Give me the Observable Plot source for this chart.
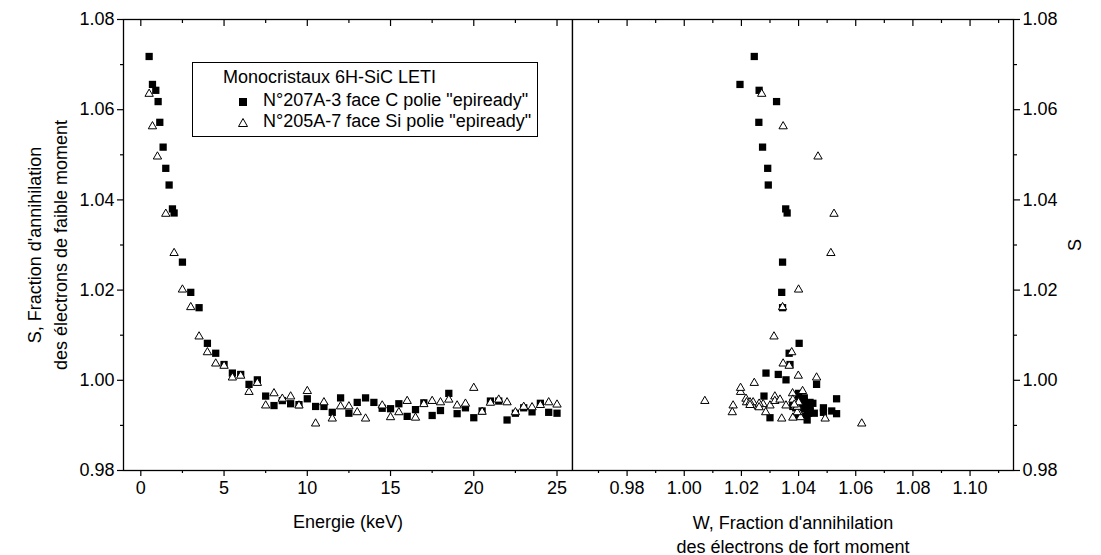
<!DOCTYPE html>
<html><head><meta charset="utf-8">
<script src="https://cdn.jsdelivr.net/npm/d3@7"></script>
<script src="https://cdn.jsdelivr.net/npm/@observablehq/plot@0.6"></script>
<style>
body{margin:0;background:#fff;}
#wrap{position:relative;width:1101px;height:555px;font-family:"Liberation Sans",Arial,sans-serif;color:#000;}
#left,#right{position:absolute;top:0;}
#left{left:0}
#right{left:572px}
#legend{position:absolute;left:192px;top:62px;width:344px;height:73px;border:1.4px solid #000;background:#fff;font-size:18px;z-index:5;}
#legend .t{position:absolute;white-space:nowrap;line-height:20px;}
#legend svg{position:absolute;}
</style>
</head><body>
<div id="wrap"><div id="left"></div><div id="right"></div>
<div id="legend">
  <div class="t" style="left:30px;top:4px">Monocristaux 6H-SiC LETI</div>
  <svg style="left:42px;top:31px" width="16" height="16"><rect x="4" y="4" width="8" height="8" fill="#000"/></svg>
  <div class="t" style="left:70px;top:27px">N°207A-3 face C polie "epiready"</div>
  <svg style="left:42px;top:52px" width="16" height="16"><path d="M8,3.5 L12.5,11.5 L3.5,11.5 Z" fill="#fff" stroke="#000" stroke-width="1"/></svg>
  <div class="t" style="left:70px;top:48px">N°205A-7 face Si polie "epiready"</div>
</div>
</div>
<script>
// Series N°207A-3 (squares): energy (keV), S, W
const e207 = [0.5,0.7,0.9,1.04,1.14,1.34,1.5,1.7,1.9,2.0,2.5,3.0,3.5,4.0,4.5,5.0,5.5,6.0,6.5,7.0,
  7.5,8.0,8.5,9.0,9.5,10.0,10.5,11.0,11.5,12.0,12.5,13.0,13.5,14.0,14.5,15.0,15.5,16.0,16.5,17.0,
  17.5,18.0,18.5,19.0,19.5,20.0,20.5,21.0,21.5,22.0,22.5,23.0,23.5,24.0,24.5,25.0];
const s207 = [1.0718,1.0656,1.0643,1.0618,1.0572,1.0517,1.0470,1.0433,1.0380,1.0371,
  1.0262,1.0195,1.0161,1.0082,1.0060,1.0035,1.0016,1.0013,0.9991,1.0001,
  0.9965,0.9944,0.9955,0.9948,0.9946,0.9959,0.9942,0.9942,0.9929,0.9961,
  0.9927,0.9951,0.9961,0.9951,0.9938,0.9937,0.9948,0.9920,0.9935,0.9950,
  0.9922,0.9933,0.9971,0.9926,0.9939,0.9917,0.9932,0.9954,0.9954,0.9912,
  0.9927,0.9939,0.9930,0.9949,0.9929,0.9927];
const w207 = [1.0245,1.0195,1.0262,1.0323,1.0261,1.0274,1.0292,1.0294,1.0355,1.0360,
  1.0344,1.0341,1.0344,1.0402,1.0367,1.0370,1.0286,1.0329,1.0463,1.0356,
  1.0279,1.0400,1.0410,1.0430,1.0390,1.0533,1.0420,1.0380,1.0487,1.0400,
  1.0430,1.0440,1.0420,1.0380,1.0400,1.0410,1.0430,1.0422,1.0440,1.0390,
  1.0400,1.0440,1.0400,1.0533,1.0487,1.0300,1.0516,1.0420,1.0400,1.0430,
  1.0435,1.0390,1.0440,1.0450,1.0400,1.0455];
// Series N°205A-7 (triangles): energy (keV), S, W
const e205 = [0.5,0.7,1.0,1.5,2.0,2.5,3.0,3.5,4.0,4.5,5.0,5.5,6.0,6.5,7.0,
  7.5,8.0,8.5,9.0,9.5,10.0,10.5,11.0,11.5,12.0,12.5,13.0,13.5,
  14.5,15.0,15.5,16.0,16.5,17.0,17.5,18.0,18.5,19.0,19.5,20.0,20.5,21.0,21.5,22.0,22.5,23.0,23.5,24.0,24.5,25.0];
const s205 = [1.0635,1.0563,1.0496,1.0369,1.0282,1.0201,1.0162,1.0097,1.0062,1.0037,1.0032,1.0006,1.0010,0.9974,0.9994,
  0.9944,0.9971,0.9959,0.9964,0.9944,0.9976,0.9904,0.9951,0.9915,0.9942,0.9942,0.9929,0.9915,
  0.9944,0.9918,0.9929,0.9954,0.9917,0.9947,0.9954,0.9951,0.9957,0.9944,0.9948,0.9983,0.9930,0.9950,0.9957,0.9951,0.9929,0.9941,0.9940,0.9945,0.9951,0.9946];
const w205 = [1.0271,1.0346,1.0468,1.0524,1.0513,1.0400,1.0344,1.0314,1.0376,1.0346,1.0367,1.0463,1.0399,1.0197,1.0245,
  1.0171,1.0379,1.0216,1.0317,1.0356,1.0414,1.0621,1.0218,1.0493,1.0387,1.0259,1.0285,1.0341,
  1.0300,1.0407,1.0168,1.0072,1.0380,1.0276,1.0317,1.0241,1.0335,1.0395,1.0262,1.0197,1.0400,1.0390,1.0380,1.0230,1.0395,1.0395,1.0262,1.0230,1.0400,1.0385];

const sTicks = [0.98,1.00,1.02,1.04,1.06,1.08];
const sMinor = [0.99,1.01,1.03,1.05,1.07];
const eTicks = [0,5,10,15,20,25];
const eMinor = [2.5,7.5,12.5,17.5,22.5];
const wTicks = [0.98,1.00,1.02,1.04,1.06,1.08,1.10];
const wMinor = [0.97,0.99,1.01,1.03,1.05,1.07,1.09,1.11];

const sq = e207.map((e,i)=>({E:e,S:s207[i],W:w207[i]}));
const tr = e205.map((e,i)=>({E:e,S:s205[i],W:w205[i]}));

const fmt = d3.format(".2f");
const blank = () => "";
const FONT = "'Liberation Sans', Arial, sans-serif";
const common = {
  height: 555, marginTop: 19, marginBottom: 85,
  style: {fontFamily: FONT, fontSize: "18px", background: "white", color: "black", overflow: "visible"},
  y: {domain: [0.98, 1.08]}
};
const TW = 1.2;

function dots(xk){
  return [
    Plot.dot(sq, {x: xk, y: "S", symbol: "square", r: 4.1, fill: "black", stroke: null}),
    Plot.dot(tr, {x: xk, y: "S", symbol: "triangle", r: 3.1, fill: "white", stroke: "black", strokeWidth: 1})
  ];
}
const T = {fontSize: 18, textAnchor: "middle", lineAnchor: "middle"};

const left = Plot.plot({
  ...common, width: 572, marginLeft: 123, marginRight: 0,
  x: {domain: [-1.04, 25.93]},
  marks: [
    Plot.axisY({ticks: sTicks, anchor: "left", tickSize: 6, tickPadding: 3, tickFormat: fmt, label: null, fontSize: 18, strokeWidth: TW}),
    Plot.axisY({ticks: sMinor, anchor: "left", tickSize: 3, tickFormat: blank, label: null, strokeWidth: TW}),
    Plot.axisX({ticks: eTicks, anchor: "bottom", tickSize: 6, tickPadding: 5, tickFormat: d3.format("d"), label: null, fontSize: 18, strokeWidth: TW}),
    Plot.axisX({ticks: eMinor, anchor: "bottom", tickSize: 3, tickFormat: blank, label: null, strokeWidth: TW}),
    Plot.axisX({ticks: eTicks, anchor: "top", tickSize: -6, tickFormat: blank, label: null, strokeWidth: TW}),
    Plot.axisX({ticks: eMinor, anchor: "top", tickSize: -3, tickFormat: blank, label: null, strokeWidth: TW}),
    Plot.frame({strokeWidth: 1.3}),
    ...dots("E"),
    Plot.text(["S, Fraction d'annihilation\ndes électrons de faible moment"], {...T, frameAnchor: "left", dx: -78, rotate: -90, lineHeight: 1.45}),
    Plot.text(["Energie (keV)"], {...T, frameAnchor: "bottom", dy: 52})
  ]
});

const right = Plot.plot({
  ...common, width: 529, marginLeft: 0, marginRight: 88,
  x: {domain: [0.9609, 1.1152]},
  marks: [
    Plot.axisY({ticks: sTicks, anchor: "right", tickSize: 6, tickPadding: 3, tickFormat: fmt, label: null, fontSize: 18, strokeWidth: TW}),
    Plot.axisY({ticks: sMinor, anchor: "right", tickSize: 3, tickFormat: blank, label: null, strokeWidth: TW}),
    Plot.axisX({ticks: wTicks, anchor: "bottom", tickSize: 6, tickPadding: 5, tickFormat: fmt, label: null, fontSize: 18, strokeWidth: TW}),
    Plot.axisX({ticks: wMinor, anchor: "bottom", tickSize: 3, tickFormat: blank, label: null, strokeWidth: TW}),
    Plot.axisX({ticks: wTicks, anchor: "top", tickSize: -6, tickFormat: blank, label: null, strokeWidth: TW}),
    Plot.axisX({ticks: wMinor, anchor: "top", tickSize: -3, tickFormat: blank, label: null, strokeWidth: TW}),
    Plot.frame({strokeWidth: 1.3}),
    ...dots("W"),
    Plot.text(["S"], {...T, frameAnchor: "right", dx: 62, rotate: -90}),
    Plot.text(["W, Fraction d'annihilation\ndes électrons de fort moment"], {...T, frameAnchor: "bottom", dy: 63, lineHeight: 1.3})
  ]
});

document.getElementById("left").appendChild(left);
document.getElementById("right").appendChild(right);
</script>
</body></html>
